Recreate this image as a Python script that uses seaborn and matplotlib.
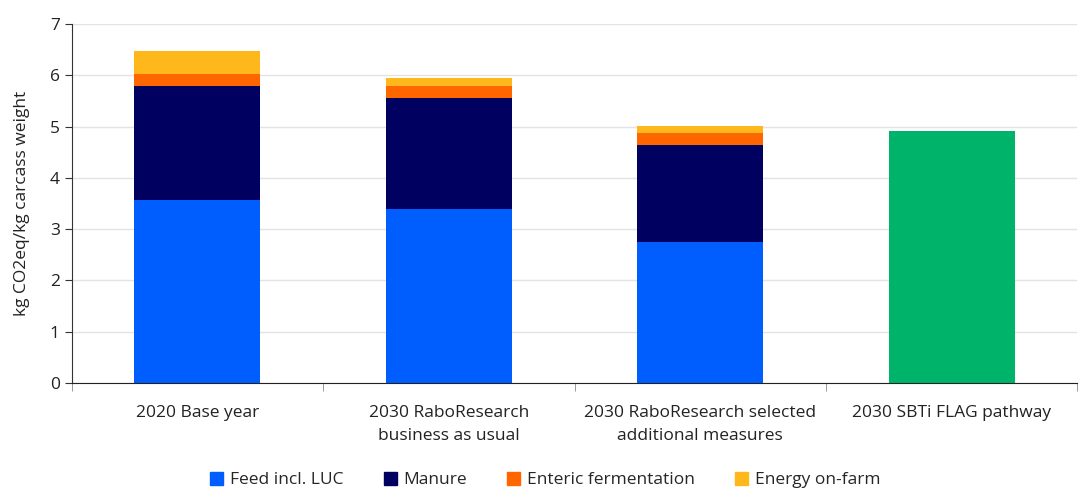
import matplotlib
matplotlib.use("Agg")
import matplotlib.pyplot as plt
import seaborn as sns
import pandas as pd
import numpy as np
from matplotlib.patches import Patch
from matplotlib.ticker import FixedLocator

categories = ["2020 Base year",
              "2030 RaboResearch\nbusiness as usual",
              "2030 RaboResearch selected\nadditional measures",
              "2030 SBTi FLAG pathway"]
feed = [3.56, 3.39, 2.75, 0.0]
manure = [2.23, 2.17, 1.90, 0.0]
enteric = [0.24, 0.24, 0.22, 0.0]
energy = [0.44, 0.15, 0.15, 0.0]
sbti = [0.0, 0.0, 0.0, 4.91]

layers = [("Feed incl. LUC", feed, "#005EFF"),
          ("Manure", manure, "#000060"),
          ("Enteric fermentation", enteric, "#FF6600"),
          ("Energy on-farm", energy, "#FFB81C")]

sns.set_style("white")
plt.rcParams['font.family'] = ['Open Sans', 'DejaVu Sans']

fig, ax = plt.subplots(figsize=(10.84, 4.91), dpi=100)
fig.subplots_adjust(left=0.066, right=0.994, top=0.951, bottom=0.22)

bottom = np.zeros(len(categories))
for name, vals, col in layers:
    df = pd.DataFrame({"cat": categories, "val": vals})
    sns.barplot(data=df, x="cat", y="val", color=col, width=0.5,
                bottom=bottom, ax=ax, saturation=1, linewidth=0)
    bottom = bottom + np.array(vals)

df = pd.DataFrame({"cat": categories, "val": sbti})
sns.barplot(data=df, x="cat", y="val", color="#00B36B", width=0.5,
            ax=ax, saturation=1, linewidth=0)

ax.set_ylim(0, 7)
ax.set_xlim(-0.5, 3.5)
ax.set_yticks(range(0, 8))
ax.set_xticks(range(len(categories)))
ax.set_xticklabels(categories, linespacing=1.6)
ax.set_xlabel("")
ax.set_ylabel("kg CO2eq/kg carcass weight", fontsize=12.5, color="#222222",
              labelpad=14)
ax.yaxis.grid(True, color="#e3e3e3", linewidth=1)
ax.set_axisbelow(True)

for s in ["top", "right"]:
    ax.spines[s].set_visible(False)
ax.spines["left"].set_color("#333333")
ax.spines["bottom"].set_color("#222222")

ax.tick_params(axis="y", direction="out", length=5, color="#333333",
               labelsize=12.5, labelcolor="#222222", left=True)
ax.tick_params(axis="x", which="major", length=0, labelsize=12.5,
               labelcolor="#222222", pad=16)
ax.xaxis.set_minor_locator(FixedLocator([-0.5, 0.5, 1.5, 2.5, 3.5]))
ax.tick_params(axis="x", which="minor", direction="out", length=6,
               color="#888888", bottom=True)

handles = [Patch(color=c, label=n) for n, _, c in layers]
fig.legend(handles=handles, loc="center", bbox_to_anchor=(0.503, 0.022),
           ncol=4, frameon=False, fontsize=12.5, handlelength=0.75,
           handleheight=0.75, columnspacing=2.3, handletextpad=0.4)

fig.savefig("out.png", dpi=100)
